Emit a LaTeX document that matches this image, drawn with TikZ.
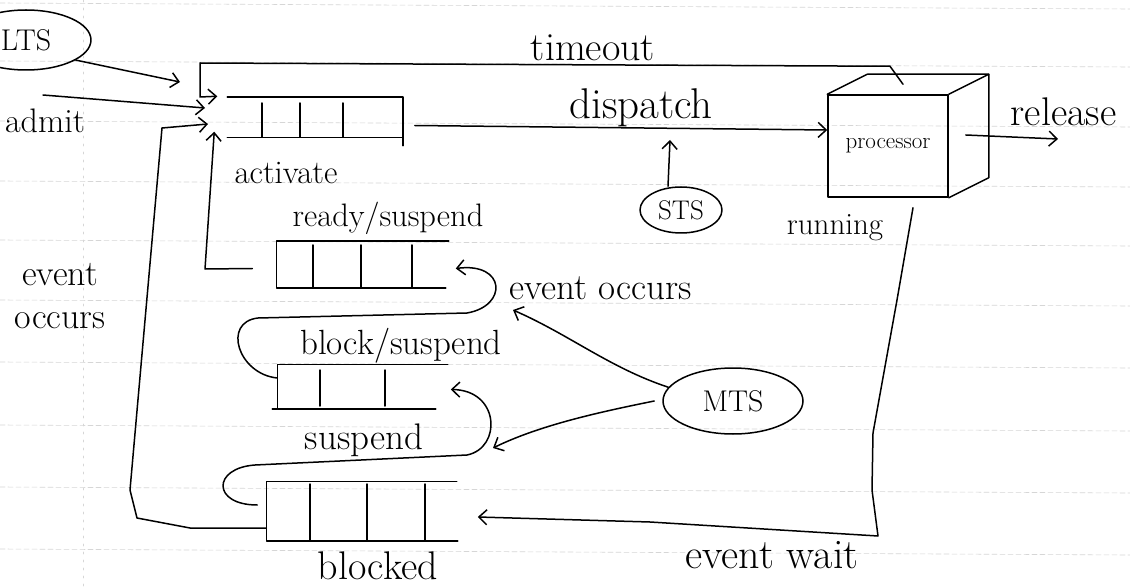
\documentclass[tikz,border=0pt]{standalone}
\usetikzlibrary{shapes.geometric,arrows.meta,calc}
\begin{document}
\begin{tikzpicture}[x=1pt,y=-1pt,
  line width=1.5pt, line cap=round, line join=round,
  arr/.style={-{Straight Barb[length=8pt,width=15pt,line width=1.5pt]}},
  lbl/.style={inner sep=0pt, font=\fontsize{#1}{#1}\selectfont},
  lbl/.default=36,
  ell/.style={ellipse, draw, inner sep=0pt},
  rulel/.style={black!16, line width=0.6pt, dash pattern=on 5pt off 3pt},
  frame/.style={inner sep=0pt, draw=none}]
\useasboundingbox (0,0) rectangle (1130,588);
\fill[white] (0,0) rectangle (1130,588);
% ruled paper
\foreach \y in {3,61,121,181,240,300,362,425,487,549}
  \draw[rulel] (0,\y) -- (1130,\y+6);
\draw[black!16, line width=0.6pt, dash pattern=on 2pt off 6pt] (83,0) -- (83,588);

% ---------- nodes ----------
\node[ell, minimum width=130pt, minimum height=60pt, lbl=30] (lts) at (26,40) {LTS};
\node[ell, minimum width=82pt, minimum height=46pt, lbl=27] (sts) at (681,210) {STS};
\node[ell, minimum width=140pt, minimum height=66pt, lbl=30] (mts) at (733,401) {MTS};
\node[draw, minimum width=120pt, minimum height=102pt, lbl=23] (proc) at (888,146) {processor};

\node[frame, minimum width=174pt, minimum height=39pt] (rq) at (315,117.5) {};
\node[frame, minimum width=171pt, minimum height=45pt] (rs) at (362.5,264.5) {};
\node[frame, minimum width=169pt, minimum height=43pt] (bs) at (362.5,386.5) {};
\node[frame, minimum width=189pt, minimum height=58pt] (bq) at (361.5,511) {};

% ---------- queues ----------
\draw (rq.north west) -- (rq.north east) -- ([yshift=-8pt]rq.south east);
\draw (rq.south west) -- (rq.south east);
\foreach \x in {262,300,343} \draw (\x,103) -- (\x,137);

\draw (rs.north east) -- (rs.north west) -- (rs.south west) -- ([xshift=-3pt]rs.south east);
\foreach \x in {313,361,412} \draw (\x,245) -- (\x,287);

\draw (bs.north east) -- (bs.north west) -- (bs.south west) -- ([xshift=-12pt]bs.south east);
\draw ([xshift=-5pt]bs.south west) -- (bs.south west);
\foreach \x in {320,385} \draw (\x,370) -- (\x,406);

\draw (bq.north east) -- (bq.north west) -- (bq.south west) -- ([xshift=1pt]bq.south east);
\foreach \x in {310,367,425} \draw (\x,484) -- (\x,540);

% ---------- processor cube ----------
\draw (proc.north west) -- ([shift={(40,-20)}]proc.north west) -- ([shift={(40,-20)}]proc.north east) -- (proc.north east);
\draw ([shift={(40,-20)}]proc.north east) -- ([shift={(40,-20)}]proc.south east) -- (proc.south east);

% ---------- free ends ----------
\coordinate (ltsTip) at (180,82);
\coordinate (admitStart) at (43,95);
\coordinate (admitTip) at (205,108);
\coordinate (occTip) at (208,124);
\coordinate (stsTip) at (670,140);
\coordinate (relTip) at (1058,139);
\coordinate (mtsTipA) at (513,310);
\coordinate (mtsTipB) at (493,448);

% ---------- connectors ----------
\draw[arr] (lts.-22) -- (ltsTip);
\draw[arr] (admitStart) -- (admitTip);
% timeout
\draw[arr] ([shift={(15,-10)}]proc.north) -- ([shift={(2,-28)}]proc.north) -- (200,63) -- (200,97) -- ([shift={(-10,-1)}]rq.north west);
% dispatch
\draw[arr] ([shift={(12,8)}]rq.east) -- ($(proc.west)+(0,-16)$);
% release
\draw[arr] ([shift={(17,-11)}]proc.east) -- (relTip);
% STS
\draw[arr] ([xshift=-13pt]sts.north) -- (stsTip);
% activate
\draw[arr] ([shift={(-24,4)}]rs.west) -- (205,269) -- ([shift={(-13,-6)}]rq.south west);
% outer event occurs
\draw[arr] ([yshift=-17pt]bq.west) -- (190,528) -- (137,518) -- (130,490) -- (162,128) -- (occTip);
% event occurs (block/suspend -> ready/suspend)
\draw[arr] ([yshift=8.5pt]bs.west) .. controls (238,374) and (222,322) .. (258,318)
  -- (467,313) .. controls (508,306) and (506,262) .. ([shift={(7,4)}]rs.east);
% suspend (blocked -> block/suspend)
\draw[arr] ([shift={(-9,-6)}]bq.west) .. controls (212,505) and (212,468) .. (255,465)
  -- (467,455) .. controls (502,448) and (500,390) .. ([shift={(3,3)}]bs.east);
% event wait
\draw[arr] ([shift={(25,10)}]proc.south) -- (897,300) -- (873,433) -- (872,490) -- (878,536) -- (650,522) -- ([shift={(21,6)}]bq.east);
% MTS
\draw[arr] (mts.168) .. controls (610,368) and (570,335) .. (mtsTipA);
\draw[arr] ([xshift=-8pt]mts.west) .. controls (600,412) and (540,425) .. (mtsTipB);

% ---------- labels ----------
\node[lbl=40] (lTimeout) at (593,48) {timeout};
\node[lbl=43] (lDispatch) at (641,108) {dispatch};
\node[lbl=40, anchor=west] (lRelease) at (1010,112) {release};
\node[lbl=31] (lRunning) at (835,228) {running};
\node[lbl=33] (lActivate) at (286,173) {activate};
\node[lbl=32.5] (lReadySusp) at (388,218) {ready/suspend};
\node[lbl=37] (lEvOcc) at (601,288) {event occurs};
\node[lbl=36, align=center, font=\fontsize{36}{43}\selectfont] (lEvOccL) at (60,296) {event\\occurs};
\node[lbl=35] (lBlockSusp) at (401,346) {block/suspend};
\node[lbl=37] (lSuspend) at (364,440) {suspend};
\node[lbl=40] (lBlocked) at (378,566) {blocked};
\node[lbl=42] (lEvWait) at (772,555) {event wait};
\node[lbl=34] (lAdmit) at (45,121) {admit};
\end{tikzpicture}
\end{document}
